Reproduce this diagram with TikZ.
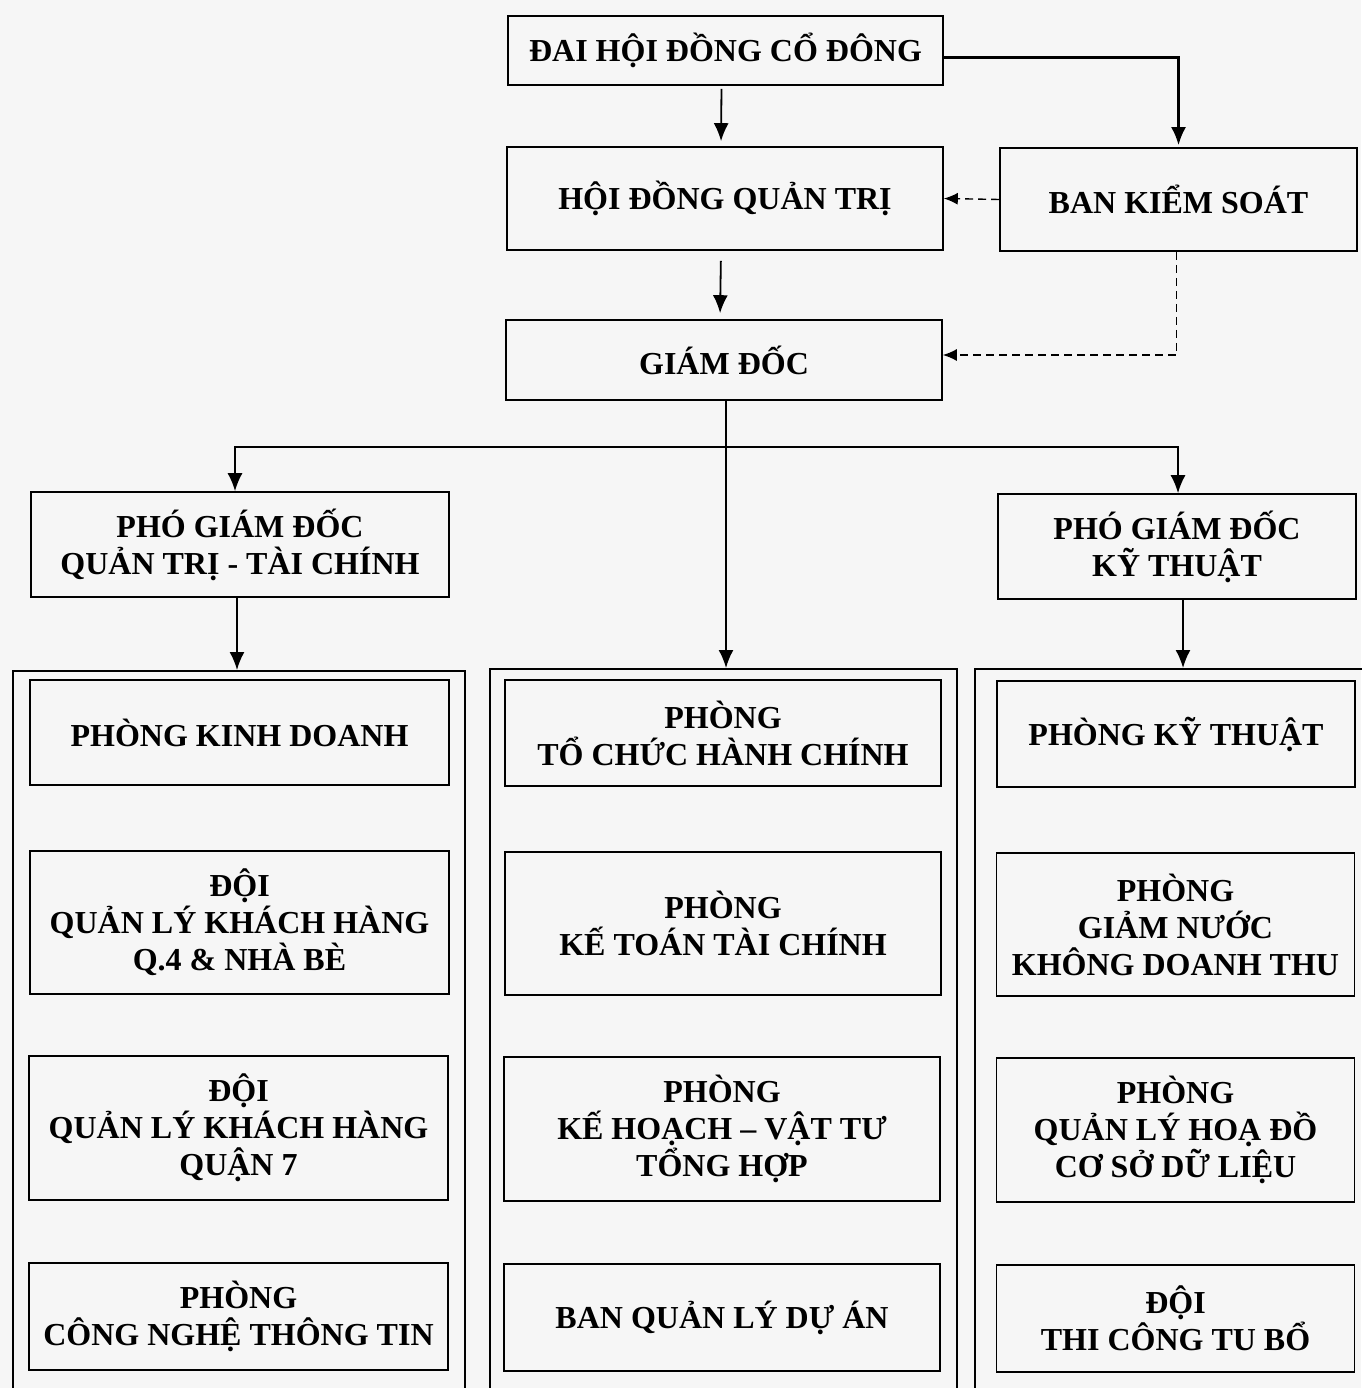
\documentclass[tikz,border=0pt]{standalone}
\usepackage{fontspec}
\setmainfont{Liberation Serif}
\usetikzlibrary{positioning, arrows.meta}
\definecolor{paper}{RGB}{246,246,246}

\begin{document}
\begin{tikzpicture}[x=1pt,y=-1pt,
            box/.style={draw, line width=1.6pt, align=center, inner sep=0pt,
                font=\bfseries\fontsize{32}{37}\selectfont},
            group/.style={draw, line width=1.8pt, minimum height=760pt, anchor=north},
            arr/.style={-{Latex[length=18pt,width=15pt]}, line width=1.8pt},
            darr/.style={-{Latex[length=14pt,width=12pt]}, line width=1.4pt, dash pattern=on 8pt off 5pt}]
            \useasboundingbox[fill=paper] (0,0) rectangle (1361,1388);
            % top of the chart
            \node[box, minimum width=435pt, minimum height=69pt] (dh) at (725.5,50.5) {ĐAI HỘI ĐỒNG CỔ ĐÔNG};
            \node[box, minimum width=436pt, minimum height=103pt] (hdqt) at (725,198.5) {HỘI ĐỒNG QUẢN TRỊ};
            \node[box, minimum width=357pt, minimum height=103pt] (bks) at (1178.5,199.5) {BAN KIỂM SOÁT};
            \node[box, minimum width=436pt, minimum height=80pt] (gd) at (724,360) {GIÁM ĐỐC};
            \node[box, minimum width=418pt, minimum height=105pt] (pgd_qt) at (240,544.5) {PHÓ GIÁM ĐỐC\\QUẢN TRỊ - TÀI CHÍNH};
            \node[box, minimum width=358pt, minimum height=105pt] (pgd_kt) at (1177,546.5) {PHÓ GIÁM ĐỐC\\KỸ THUẬT};
            % three columns
            \node[group, minimum width=452pt] (col_l) at (239,670) {};
            \node[group, minimum width=467pt] (col_m) at (723.5,668) {};
            \node[group, minimum width=397pt] (col_r) at (1173.5,668) {};
            \node[box, minimum width=419pt, minimum height=105pt] (kd) at (239.5,732.5) {PHÒNG KINH DOANH};
            \node[box, minimum width=419pt, minimum height=143pt] (q4) at (239.5,922.5) {ĐỘI\\QUẢN LÝ KHÁCH HÀNG\\Q.4 \& NHÀ BÈ};
            \node[box, minimum width=419pt, minimum height=144pt] (q7) at (238.5,1128) {ĐỘI\\QUẢN LÝ KHÁCH HÀNG\\QUẬN 7};
            \node[box, minimum width=419pt, minimum height=107pt] (cntt) at (238.5,1316.5) {PHÒNG\\CÔNG NGHỆ THÔNG TIN};
            \node[box, minimum width=436pt, minimum height=106pt] (tchc) at (723,733) {PHÒNG\\TỔ CHỨC HÀNH CHÍNH};
            \node[box, minimum width=436pt, minimum height=143pt] (kttc) at (723,923.5) {PHÒNG\\KẾ TOÁN TÀI CHÍNH};
            \node[box, minimum width=436pt, minimum height=144pt] (khvt) at (722,1129) {PHÒNG\\KẾ HOẠCH – VẬT TƯ\\TỔNG HỢP};
            \node[box, minimum width=436pt, minimum height=107pt] (qlda) at (722,1317.5) {BAN QUẢN LÝ DỰ ÁN};
            \node[box, minimum width=358pt, minimum height=106pt] (kt) at (1176,734) {PHÒNG KỸ THUẬT};
            \node[box, minimum width=358pt, minimum height=143pt] (gn) at (1175.5,924.5) {PHÒNG\\GIẢM NƯỚC\\KHÔNG DOANH THU};
            \node[box, minimum width=358pt, minimum height=144pt] (hd) at (1175.5,1130) {PHÒNG\\QUẢN LÝ HOẠ ĐỒ\\CƠ SỞ DỮ LIỆU};
            \node[box, minimum width=358pt, minimum height=107pt] (tctb) at (1175.5,1318.5) {ĐỘI\\THI CÔNG TU BỔ};
            \coordinate (fork) at (726,447);
            \draw[arr, shorten <=3pt, shorten >=5pt] ([xshift=-4pt]dh.south) -- ([xshift=-4pt]hdqt.north);
            \draw[arr, shorten <=10pt, shorten >=6pt] ([xshift=-4pt]hdqt.south) -- ([xshift=-4pt]gd.north);
            \draw[arr, line width=2.6pt, shorten >=2pt] ([yshift=-7pt]dh.east) -| (bks.north);
            \draw[darr] (bks.west) -- (hdqt.east);
            \draw[darr] ([xshift=-2pt]bks.south) |- ([yshift=5pt]gd.east);
            \draw[arr] ([xshift=2pt]gd.south) -- ([xshift=2pt]gd.south |- col_m.north);
            \draw[arr] (fork) -| ([xshift=-5pt]pgd_qt.north);
            \draw[arr] (fork) -| ([xshift=1pt]pgd_kt.north);
            \draw[arr] ([xshift=-3pt]pgd_qt.south) -- ([xshift=-3pt]pgd_qt.south |- col_l.north);
            \draw[arr] ([xshift=6pt]pgd_kt.south) -- ([xshift=6pt]pgd_kt.south |- col_r.north);
        \end{tikzpicture}
\end{document}
